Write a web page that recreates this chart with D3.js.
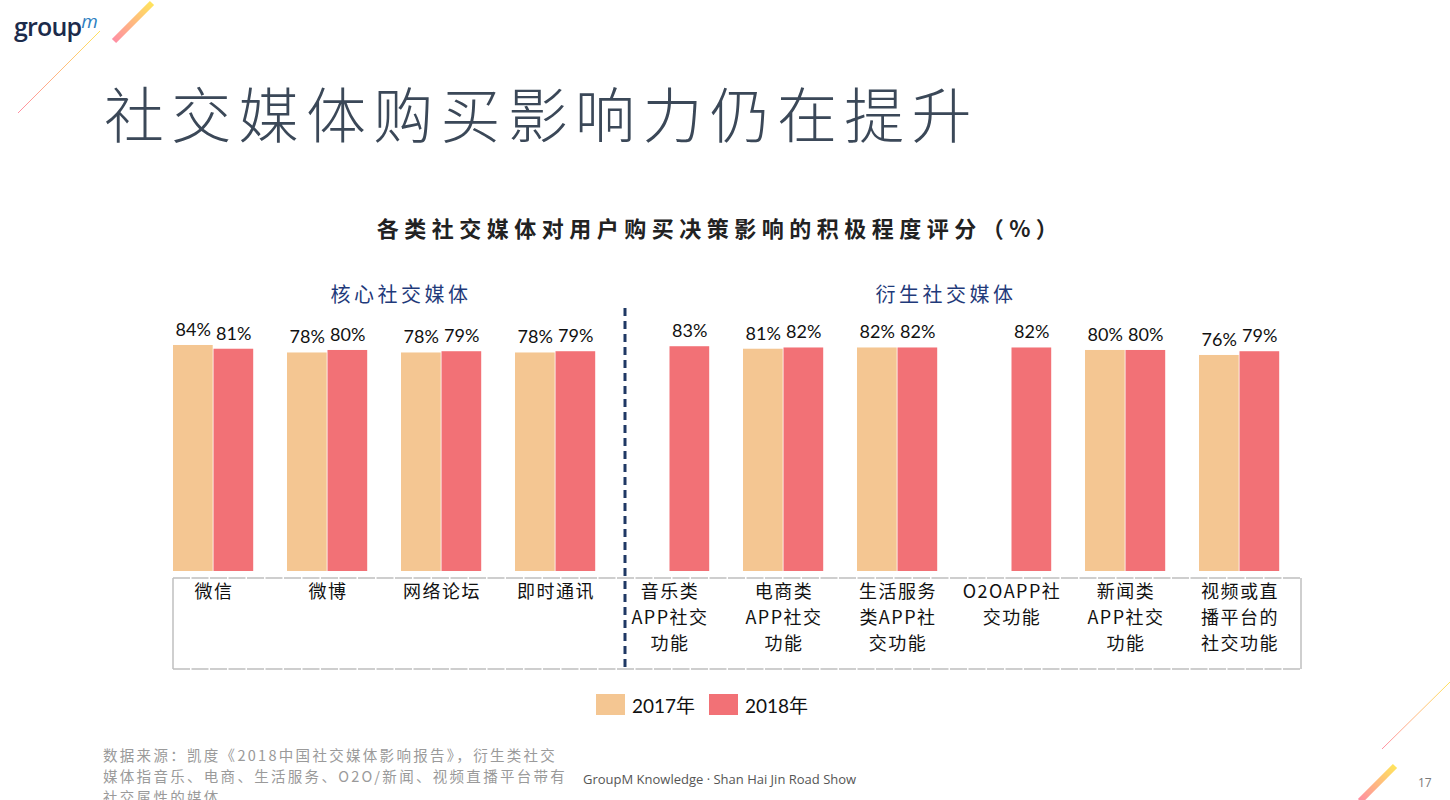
<!DOCTYPE html>
<html>
<head>
<meta charset="utf-8">
<script src="https://cdn.jsdelivr.net/npm/d3@7"></script>
<style>
  html, body { margin: 0; padding: 0; background: #fff; }
  svg { display: block; font-family: "Noto Sans CJK SC", "Noto Sans", sans-serif; }
</style>
</head>
<body>
<svg id="chart" width="1450" height="800"></svg>
<script>
// Chart data
const categories = ["微信", "微博", "网络论坛", "即时通讯", "音乐类APP社交功能", "电商类APP社交功能",
                    "生活服务类APP社交功能", "O2OAPP社交功能", "新闻类APP社交功能", "视频或直播平台的社交功能"];
const categoryLines = [
    ["微信"], ["微博"], ["网络论坛"], ["即时通讯"],
    ["音乐类", "APP社交", "功能"], ["电商类", "APP社交", "功能"],
    ["生活服务", "类APP社", "交功能"], ["O2OAPP社", "交功能"],
    ["新闻类", "APP社交", "功能"], ["视频或直", "播平台的", "社交功能"]
];
const years = ["2017年", "2018年"];
const values2017 = [84, 78, 78, 78, null, 81, 82, null, 80, 76];
const values2018 = [81, 80, 79, 79, 83, 82, 82, 82, 80, 79];
const groupNames = ["核心社交媒体", "衍生社交媒体"];
const colors = ["#F4C692", "#F27176"];

const svg = d3.select("#chart");

// gradient for the decorative stripes
const defs = svg.append("defs");
const grad = defs.append("linearGradient").attr("id", "stripe")
    .attr("x1", "0%").attr("y1", "100%").attr("x2", "100%").attr("y2", "0%");
grad.append("stop").attr("offset", "0%").attr("stop-color", "#ff8fa3");
grad.append("stop").attr("offset", "100%").attr("stop-color", "#ffe45c");

// logo
const logo = svg.append("text").attr("x", 14).attr("y", 36)
    .style("font-family", "'Open Sans', sans-serif");
logo.append("tspan").text("group").attr("fill", "#1c2b4b").style("font-size", "25px")
    .style("font-weight", 600).style("letter-spacing", "-0.8px");
logo.append("tspan").text("m").attr("fill", "#2e7fc1").attr("dy", -8)
    .style("font-size", "19px").style("font-style", "italic");

// decorative stripes
svg.append("line").attr("x1", 114).attr("y1", 41).attr("x2", 152).attr("y2", 3)
    .attr("stroke", "url(#stripe)").attr("stroke-width", 6);
svg.append("line").attr("x1", 18).attr("y1", 113).attr("x2", 100).attr("y2", 31)
    .attr("stroke", "url(#stripe)").attr("stroke-width", 1);
svg.append("line").attr("x1", 1382).attr("y1", 749).attr("x2", 1450).attr("y2", 682)
    .attr("stroke", "url(#stripe)").attr("stroke-width", 1);
svg.append("line").attr("x1", 1360).attr("y1", 801).attr("x2", 1395).attr("y2", 766)
    .attr("stroke", "url(#stripe)").attr("stroke-width", 6);

// slide title
svg.append("text").attr("x", 104).attr("y", 138)
    .text("社交媒体购买影响力仍在提升")
    .attr("fill", "#3b4858")
    .style("font-size", "60px").style("font-weight", 300).style("letter-spacing", "7.3px");

// chart title
svg.append("text").attr("x", 720).attr("y", 237).attr("text-anchor", "middle")
    .text("各类社交媒体对用户购买决策影响的积极程度评分（%）")
    .attr("fill", "#222").style("font-size", "22px").style("font-weight", 700)
    .style("letter-spacing", "5.5px");

// scales
const x0 = d3.scaleBand().domain(categories).range([173, 1313]);
const x1 = d3.scaleBand().domain(years).range([0, 81]);
const y = d3.scaleLinear().domain([-97, 100]).range([571, 325]);

const rows = categories.map((c, i) => ({ cat: c, vals: [values2017[i], values2018[i]] }));

const groups = svg.append("g").selectAll(".grp").data(rows).enter().append("g")
    .attr("transform", d => `translate(${x0(d.cat)},0)`);

const present = d => d.vals.map((v, j) => ({ year: years[j], v, j })).filter(e => e.v != null);

groups.selectAll("rect")
    .data(present)
    .enter().append("rect")
    .attr("x", e => x1(e.year))
    .attr("y", e => y(e.v))
    .attr("width", x1.bandwidth() - 0.8)
    .attr("height", e => y(-97) - y(e.v))
    .attr("fill", e => colors[e.j]);

groups.selectAll(".val")
    .data(present)
    .enter().append("text")
    .attr("x", e => x1(e.year) + x1.bandwidth() / 2)
    .attr("y", e => y(e.v) - 9)
    .attr("text-anchor", "middle")
    .attr("fill", "#111")
    .style("font-family", "Lato, 'Open Sans', sans-serif")
    .style("font-size", "18px")
    .text(e => e.v + "%");

// table under the bars
const tableTop = 578, tableBottom = 669;
const grey = "#bfbfbf";
[tableTop, tableBottom].forEach(yy => {
    svg.append("line").attr("x1", 173).attr("x2", 1301).attr("y1", yy).attr("y2", yy)
        .attr("stroke", grey).attr("stroke-width", 1.5).attr("stroke-dasharray", "17,1.5");
});
[173, 1301].forEach(xx => {
    svg.append("line").attr("x1", xx).attr("x2", xx).attr("y1", tableTop).attr("y2", tableBottom)
        .attr("stroke", grey).attr("stroke-width", 1.5);
});

// category labels
groups.each(function(d, i) {
    const t = d3.select(this).append("text")
        .attr("text-anchor", "middle")
        .attr("fill", "#111")
        .style("font-size", "18px")
        .style("letter-spacing", "1.5px");
    categoryLines[i].forEach((line, k) => {
        t.append("tspan").attr("x", 41).attr("y", 598 + k * 26).text(line);
    });
});

// divider between the two groups
svg.append("line").attr("x1", 625).attr("x2", 625).attr("y1", 308).attr("y2", 669)
    .attr("stroke", "#1f3864").attr("stroke-width", 3).attr("stroke-dasharray", "8,5");

// group headers
[[401, groupNames[0]], [946, groupNames[1]]].forEach(([cx, name]) => {
    svg.append("text").attr("x", cx).attr("y", 302).attr("text-anchor", "middle")
        .text(name).attr("fill", "#1f3a7a")
        .style("font-size", "20px").style("letter-spacing", "3.5px");
});

// legend
const legendX = [596, 709];
years.forEach((yr, j) => {
    svg.append("rect").attr("x", legendX[j]).attr("y", 694).attr("width", 29).attr("height", 21)
        .attr("fill", colors[j]);
    svg.append("text").attr("x", legendX[j] + 36).attr("y", 713)
        .attr("fill", "#111").style("font-size", "19px")
        .style("font-family", "Lato, 'Noto Sans CJK SC', sans-serif")
        .text(yr);
});

// footer
const source = ["数据来源：凯度《2018中国社交媒体影响报告》，衍生类社交",
                "媒体指音乐、电商、生活服务、O2O/新闻、视频直播平台带有",
                "社交属性的媒体"];
source.forEach((s, k) => {
    svg.append("text").attr("x", 103).attr("y", 761 + k * 21).text(s)
        .attr("fill", "#9a9a9a").style("font-size", "14.5px").style("letter-spacing", "2.3px");
});
svg.append("text").attr("x", 583).attr("y", 784).text("GroupM Knowledge · Shan Hai Jin Road Show")
    .attr("fill", "#555").style("font-size", "13px").style("font-family", "'Open Sans', sans-serif");
svg.append("text").attr("x", 1418).attr("y", 787).text("17")
    .attr("fill", "#7a7a7a").style("font-size", "12px").style("font-family", "'Open Sans', sans-serif");
</script>
</body>
</html>
